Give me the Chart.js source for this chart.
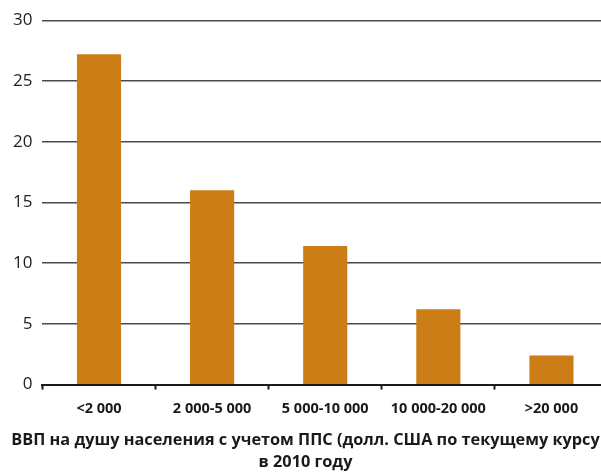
<!DOCTYPE html>
<html>
<head>
<meta charset="utf-8">
<script src="https://cdn.jsdelivr.net/npm/chart.js@4"></script>
<style>
  html, body { margin: 0; padding: 0; background: #fff; overflow: hidden; }
  #wrap { width: 608px; height: 473px; }
</style>
</head>
<body>
<div id="wrap"><canvas id="chart" width="608" height="473"></canvas></div>
<script>
// categories: GDP per capita ranges (PPP, current USD, 2010)
const categories = ['<2 000', '2 000-5 000', '5 000-10 000', '10 000-20 000', '>20 000'];
const values = [27.2, 16.0, 11.4, 6.2, 2.4];
const yTicks = [0, 5, 10, 15, 20, 25, 30];
const titleLines = ['ВВП на душу населения с учетом ППС (долл. США по текущему курсу', 'в 2010 году'];

const fontFamily = '"Open Sans", "Noto Sans", sans-serif';

const ctx = document.getElementById('chart').getContext('2d');

new Chart(ctx, {
    type: 'bar',
    data: {
        labels: categories,
        datasets: [{
            data: values,
            backgroundColor: '#CC7D16',
            borderWidth: 0,
            barPercentage: 0.39,
            categoryPercentage: 1
        }]
    },
    options: {
        responsive: false,
        animation: false,
        layout: {
            padding: { top: 17, left: 3, right: 0, bottom: 0 }
        },
        plugins: {
            legend: { display: false },
            tooltip: { enabled: false },
            title: {
                display: true,
                position: 'bottom',
                text: titleLines,
                color: '#1a1a1a',
                font: { family: fontFamily, size: 16.3, weight: 'bold', lineHeight: 1.35 },
                padding: { top: 0, bottom: 0 },
                align: 'center',
                fullSize: true
            }
        },
        scales: {
            x: {
                offset: true,
                grid: {
                    display: true,
                    offset: true,
                    drawOnChartArea: false,
                    drawTicks: true,
                    tickLength: 5,
                    tickWidth: 2,
                    tickColor: '#1a1a1a'
                },
                border: { display: true, color: '#1a1a1a', width: 2 },
                ticks: {
                    color: '#1a1a1a',
                    padding: 11,
                    maxRotation: 0,
                    autoSkip: false,
                    font: { family: fontFamily, size: 14.5, weight: 'bold' }
                }
            },
            y: {
                min: 0,
                max: 30,
                afterBuildTicks: axis => {
                    axis.ticks = yTicks.map(v => ({ value: v }));
                },
                grid: {
                    color: '#4a4a4a',
                    lineWidth: 1.4,
                    drawTicks: false
                },
                border: { display: false },
                ticks: {
                    color: '#222',
                    padding: 10,
                    font: { family: fontFamily, size: 17 }
                }
            }
        }
    }
});
</script>
</body>
</html>
